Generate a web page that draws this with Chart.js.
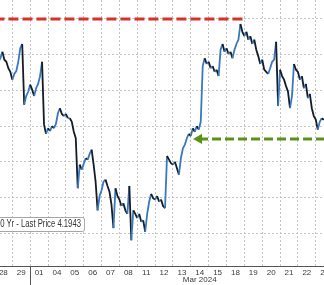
<!DOCTYPE html>
<html><head><meta charset="utf-8">
<script src="https://cdn.jsdelivr.net/npm/chart.js@4.4.1/dist/chart.umd.min.js"></script>
<style>
html,body{margin:0;padding:0;background:#fff;}
#wrap{position:relative;width:324px;height:285px;overflow:hidden;}
canvas{display:block;}
#legend{position:absolute;right:239px;top:217px;height:13px;line-height:13px;border:1px solid #9a9a9a;border-radius:3px;background:#fff;font:10px "Liberation Sans",Arial,sans-serif;color:#333;padding:0 4px 0 6px;white-space:nowrap;transform:scaleX(0.77);transform-origin:right center;}
</style></head><body>
<div id="wrap"><canvas id="c" width="324" height="285"></canvas><div id="legend">US Generic Govt 10 Yr - Last Price 4.1943</div></div>
<script>
// trading days shown on the axis (Feb 28 .. Mar 25, 2024)
const dayLabels = ['28','29','01','04','05','06','07','08','11','12','13','14','15','18','19','20','21','22','25'];
const monthLabel = 'Mar 2024';
const monthLabelDay = '14';
const monthStartDay = '01';
const samplesPerDay = 9;

// intraday 10Y yield readings (9 per day)
const feb28 = [4.293,4.300,4.290,4.295,4.304,4.293,4.290,4.281,4.276];
const feb29 = [4.265,4.273,4.277,4.290,4.309,4.315,4.230,4.242,4.248];
const mar01 = [4.258,4.251,4.242,4.253,4.259,4.270,4.290,4.202,4.189];
const mar04 = [4.197,4.193,4.200,4.197,4.203,4.218,4.225,4.217,4.214];
const mar05 = [4.217,4.211,4.211,4.206,4.192,4.183,4.113,4.146,4.139];
const mar06 = [4.147,4.155,4.153,4.161,4.167,4.146,4.122,4.082,4.102];
const mar07 = [4.110,4.122,4.125,4.116,4.108,4.090,4.057,4.113,4.102];
const mar08 = [4.097,4.088,4.092,4.082,4.077,4.116,4.040,4.082,4.077];
const mar11 = [4.071,4.077,4.066,4.068,4.052,4.077,4.094,4.105,4.099];
const mar12 = [4.097,4.102,4.094,4.097,4.088,4.085,4.158,4.153,4.148];
const mar13 = [4.146,4.150,4.141,4.132,4.155,4.169,4.174,4.183,4.189];
const mar14 = [4.186,4.197,4.192,4.200,4.195,4.206,4.284,4.295,4.287];
const mar15 = [4.290,4.281,4.284,4.276,4.279,4.270,4.307,4.315,4.304];
const mar18 = [4.309,4.301,4.304,4.295,4.307,4.315,4.321,4.343,4.332];
const mar19 = [4.326,4.332,4.321,4.326,4.315,4.321,4.307,4.298,4.287];
const mar20 = [4.293,4.279,4.276,4.273,4.281,4.290,4.293,4.318,4.228];
const mar21 = [4.279,4.270,4.265,4.256,4.248,4.225,4.242,4.287,4.279];
const mar22 = [4.276,4.265,4.270,4.253,4.259,4.239,4.245,4.225,4.214];
const mar25 = [4.209,4.195,4.206,4.211,4.209];
const dayYields = [feb28,feb29,mar01,mar04,mar05,mar06,mar07,mar08,mar11,mar12,mar13,mar14,mar15,mar18,mar19,mar20,mar21,mar22,mar25];

// annotation levels
const highLevel = 4.35;          // red dashed
const highLevelEnd = 14.09;      // in trading-day units
const supportLevel = 4.182;      // green dashed arrow
const supportStart = 11.46;
const yGridTicks = [4.05,4.10,4.15,4.20,4.25,4.30,4.35];
const yMin = 4.004, yMax = 4.3766;
const xMin = 0.311, xMax = 18.46;

const series = [];
dayYields.forEach((arr, d) => arr.forEach((v, j) => series.push({x: d + j / samplesPerDay, y: v})));

const FONT = '"Liberation Sans", Arial, sans-serif';
const BLUE = '#3a78bd', DARK = '#141c28';

const monthSeparator = {
  id: 'monthSeparator',
  afterDraw(chart) {
    const sx = chart.scales.x, ctx = chart.ctx;
    const px = Math.round(sx.getPixelForValue(dayLabels.indexOf(monthStartDay))) + 0.5;
    ctx.save();
    ctx.strokeStyle = '#555'; ctx.lineWidth = 1;
    ctx.beginPath(); ctx.moveTo(px, sx.top); ctx.lineTo(px, chart.height); ctx.stroke();
    ctx.restore();
  }
};

new Chart(document.getElementById('c'), {
  type: 'line',
  data: {
    datasets: [
      {
        data: series, order: 2, borderWidth: 1.8, pointRadius: 0, tension: 0,
        borderColor: DARK,
        segment: { borderColor: c => (c.p1.parsed.y >= c.p0.parsed.y ? BLUE : DARK) }
      },
      {
        data: [{x: 0, y: highLevel}, {x: highLevelEnd, y: highLevel}], order: 1,
        borderColor: '#d7312a', borderWidth: 3, borderDash: [10, 4], pointRadius: 0
      },
      {
        data: [{x: supportStart, y: supportLevel}, {x: 19, y: supportLevel}], order: 1,
        borderColor: '#5c9119', borderWidth: 3, borderDash: [9, 4],
        pointStyle: 'triangle', rotation: 270,
        pointRadius: c => (c.dataIndex === 0 ? 6 : 0),
        pointBackgroundColor: '#5c9119', pointBorderWidth: 0
      }
    ]
  },
  options: {
    responsive: false, animation: false,
    layout: { padding: 0, autoPadding: false },
    plugins: { legend: { display: false }, tooltip: { enabled: false } },
    scales: {
      x: {
        type: 'linear', min: xMin, max: xMax,
        afterBuildTicks: s => { s.ticks = dayLabels.map((_, i) => ({ value: i + 0.5 })); },
        afterFit: s => { s.paddingLeft = 0; s.paddingRight = 0; s.height = 19; },
        ticks: {
          autoSkip: false, maxRotation: 0, minRotation: 0, padding: 2.5, color: '#3a3a3a',
          font: { family: FONT, size: 8, lineHeight: 0.975 },
          callback: (v, i) => (dayLabels[i] === monthLabelDay ? [dayLabels[i], monthLabel] : dayLabels[i])
        },
        grid: { offset: true, color: '#c4c4c4', lineWidth: 1, drawTicks: false },
        border: { display: true, color: '#555', width: 1, dash: [2, 2] }
      },
      y: {
        position: 'right', min: yMin, max: yMax,
        afterBuildTicks: s => { s.ticks = yGridTicks.map(v => ({ value: v })); },
        afterFit: s => { s.width = 0; s.paddingTop = 0; s.paddingBottom = 0; },
        ticks: { display: false },
        grid: { color: '#c4c4c4', lineWidth: 1, drawTicks: false },
        border: { display: false, dash: [2, 2] }
      }
    }
  },
  plugins: [monthSeparator]
});
</script>
</body></html>
